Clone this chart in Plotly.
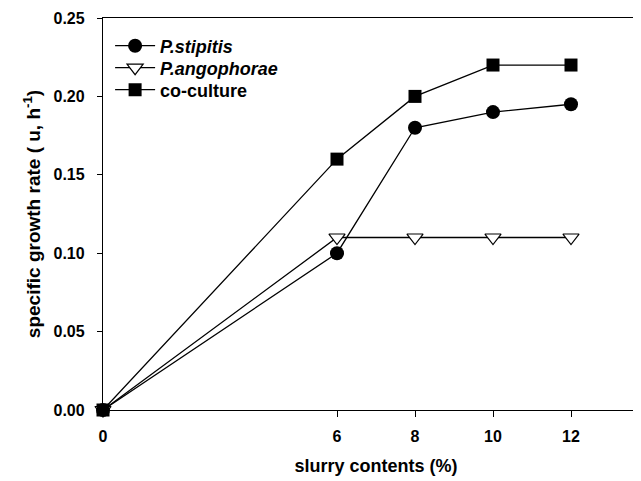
import plotly.graph_objects as go

x_vals = [0, 6, 8, 10, 12]
stipitis = [0.0, 0.10, 0.18, 0.19, 0.195]
angophorae = [0.0, 0.11, 0.11, 0.11, 0.11]
coculture = [0.0, 0.16, 0.20, 0.22, 0.22]
x_ticks = [0, 6, 8, 10, 12]
y_ticks = [0.0, 0.05, 0.10, 0.15, 0.20, 0.25]

FONT = "Liberation Sans, Arial, sans-serif"

fig = go.Figure()
fig.add_trace(go.Scatter(x=x_vals, y=stipitis, mode="lines+markers", name="<b><i>P.stipitis</i></b>",
                         line=dict(color="black", width=1.3), legend="legend",
                         marker=dict(symbol="circle", size=14, color="black"), cliponaxis=False))
fig.add_trace(go.Scatter(x=x_vals, y=angophorae, mode="lines+markers", name="<b><i>P.angophorae</i></b>",
                         line=dict(color="black", width=1.3), legend="legend2",
                         marker=dict(symbol="triangle-down", size=14, color="white",
                                     line=dict(color="black", width=1.2)), cliponaxis=False))
fig.add_trace(go.Scatter(x=x_vals, y=coculture, mode="lines+markers", name="<b>co-culture</b>",
                         line=dict(color="black", width=1.3), legend="legend3",
                         marker=dict(symbol="square", size=13, color="black"), cliponaxis=False))

leg = dict(x=0.013, xanchor="left", yanchor="middle", bgcolor="rgba(0,0,0,0)",
           font=dict(size=18, family=FONT), itemwidth=40)

fig.update_layout(
    width=641, height=481,
    margin=dict(l=95, r=0, t=10, b=79),
    paper_bgcolor="white", plot_bgcolor="white",
    font=dict(family=FONT, size=16, color="black"),
    showlegend=True,
    legend=dict(leg, y=0.9286),
    legend2=dict(leg, y=0.8724),
    legend3=dict(leg, y=0.8163),
    xaxis=dict(range=[0, 14], tickvals=x_ticks, ticktext=[f"<b>{v}</b>" for v in x_ticks],
               showline=True, linecolor="black", linewidth=1.3, mirror=True,
               ticks="outside", ticklen=6, tickcolor="black", showgrid=False, zeroline=False,
               tickfont=dict(size=16, family=FONT), ticklabelstandoff=6,
               title=dict(text="<b>slurry contents (%)</b>", font=dict(size=18, family=FONT), standoff=15)),
    yaxis=dict(range=[0, 0.25], tickvals=y_ticks, ticktext=[f"<b>{v:.2f}</b>" for v in y_ticks],
               showline=True, linecolor="black", linewidth=1.3,
               ticks="outside", ticklen=5, tickcolor="black", showgrid=False, zeroline=False,
               tickfont=dict(size=16, family=FONT), ticklabelstandoff=9,
               title=dict(text="<b>specific growth rate ( u, h<sup>-1</sup>)</b>", font=dict(size=19, family=FONT), standoff=7)),
)

fig.write_html("out.html")
